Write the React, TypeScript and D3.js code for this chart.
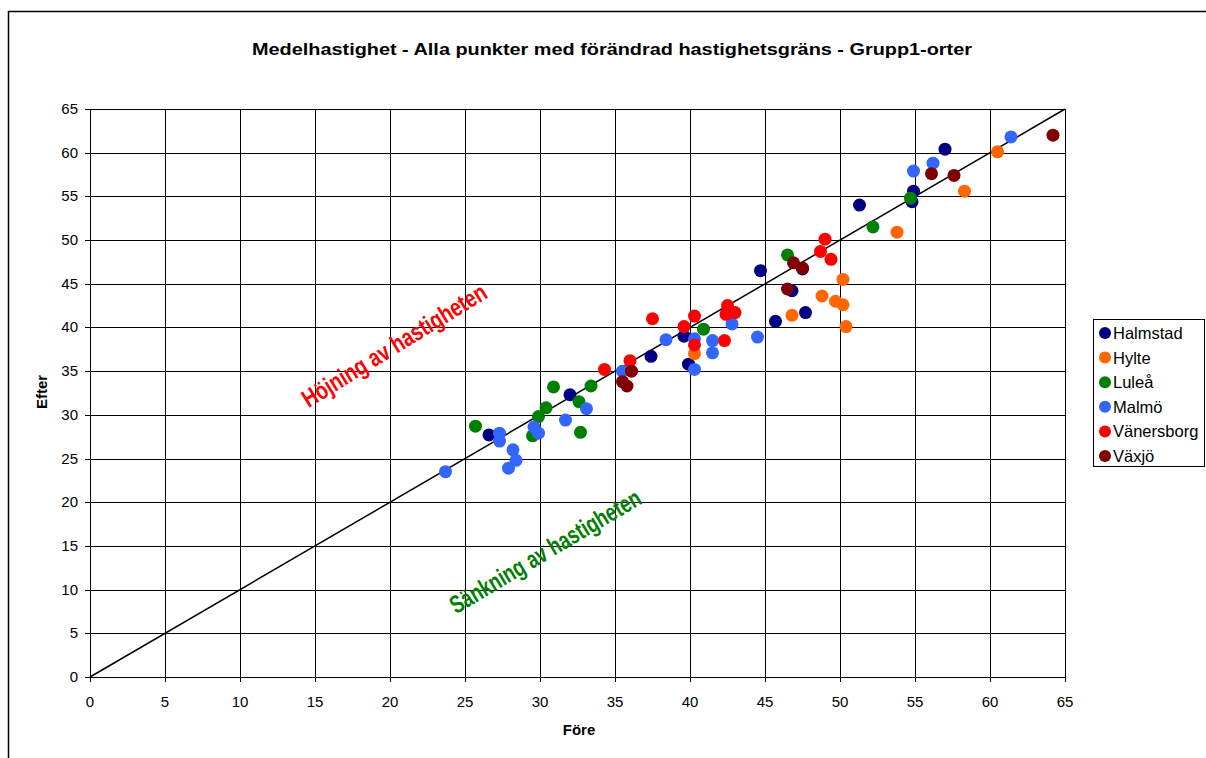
import { useEffect, useRef } from "react"
import * as d3 from "d3"

// before / after average speed per measuring point
const halmstadX = [26.6, 32.0, 37.4, 39.6, 39.9, 44.7, 45.7, 46.8, 47.7, 47.5, 51.3, 54.9, 54.8, 57.0]
const halmstadY = [27.7, 32.3, 36.7, 39.0, 35.8, 46.5, 40.7, 44.2, 41.7, 46.7, 54.0, 55.6, 54.4, 60.4]
const hylteX = [40.3, 46.8, 48.8, 49.7, 50.2, 50.2, 50.4, 53.8, 58.3, 60.5]
const hylteY = [37.0, 41.4, 43.6, 43.0, 42.6, 45.5, 40.1, 50.9, 55.6, 60.1]
const luleaX = [25.7, 30.9, 33.4, 30.4, 32.6, 29.9, 29.5, 32.7, 40.9, 46.5, 52.2, 54.7]
const luleaY = [28.7, 33.2, 33.3, 30.8, 31.5, 29.8, 27.6, 28.0, 39.8, 48.3, 51.5, 54.8]
const malmoX = [23.7, 27.3, 27.3, 28.2, 28.4, 27.9, 29.6, 29.9, 31.7, 33.1, 35.5, 38.4, 40.3, 40.3, 41.5, 41.5, 42.8, 44.5, 54.9, 56.2, 61.4]
const malmoY = [23.5, 27.9, 27.0, 26.0, 24.8, 23.9, 28.6, 27.9, 29.4, 30.7, 35.0, 38.6, 38.7, 35.2, 38.5, 37.1, 40.4, 38.9, 57.9, 58.8, 61.8]
const vanersborgX = [34.3, 36.0, 37.5, 39.6, 40.3, 40.3, 42.3, 42.5, 42.4, 43.0, 48.7, 49.4, 49.0]
const vanersborgY = [35.2, 36.2, 41.0, 40.1, 41.3, 38.0, 38.5, 42.5, 41.5, 41.7, 48.7, 47.8, 50.1]
const vaxjoX = [35.5, 35.8, 36.1, 46.9, 47.5, 46.5, 56.1, 57.6, 64.2]
const vaxjoY = [33.8, 33.3, 35.0, 47.4, 46.8, 44.4, 57.6, 57.4, 62.0]

const seriesNames = ["Halmstad", "Hylte", "Luleå", "Malmö", "Vänersborg", "Växjö"]
const seriesColors = ["#000080", "#FF6600", "#008000", "#3366FF", "#FF0000", "#800000"]
const seriesX = [halmstadX, hylteX, luleaX, malmoX, vanersborgX, vaxjoX]
const seriesY = [halmstadY, hylteY, luleaY, malmoY, vanersborgY, vaxjoY]

const ticks = [0, 5, 10, 15, 20, 25, 30, 35, 40, 45, 50, 55, 60, 65]

export default function App() {
  const svgRef = useRef<SVGSVGElement>(null)

  useEffect(() => {
    if (!svgRef.current) return
    const svg = d3.select(svgRef.current)
    svg.selectAll("*").remove()

    const font = "'Liberation Sans', Arial, sans-serif"
    const left = 90, right = 1065, top = 109, bottom = 677

    const x = d3.scaleLinear().domain([0, 65]).range([left, right])
    const y = d3.scaleLinear().domain([0, 65]).range([bottom, top])

    svg.append("rect").attr("width", 1206).attr("height", 758).attr("fill", "white")

    // outer frame (cropped)
    svg.append("path").attr("d", "M8.5,758 V11.5 H1206").attr("fill", "none").attr("stroke", "black").attr("stroke-width", 1.5)

    // title
    svg.append("text")
      .attr("x", 612).attr("y", 55)
      .attr("text-anchor", "middle")
      .attr("textLength", 720).attr("lengthAdjust", "spacingAndGlyphs")
      .style("font-family", font).style("font-size", "16px").style("font-weight", "bold")
      .text("Medelhastighet - Alla punkter med förändrad hastighetsgräns - Grupp1-orter")

    // grid
    const grid = svg.append("g").attr("stroke", "#000").attr("stroke-width", 1)
    ticks.forEach((t) => {
      grid.append("line").attr("x1", Math.round(x(t)) + 0.5).attr("x2", Math.round(x(t)) + 0.5).attr("y1", top).attr("y2", bottom + 5)
      grid.append("line").attr("y1", Math.round(y(t)) + 0.5).attr("y2", Math.round(y(t)) + 0.5).attr("x1", left - 5).attr("x2", right)
    })
    svg.append("rect").attr("x", left + 0.5).attr("y", top + 0.5).attr("width", right - left).attr("height", bottom - top)
      .attr("fill", "none").attr("stroke", "black")

    // tick labels
    const lab = svg.append("g").style("font-family", font).style("font-size", "15px")
    ticks.forEach((t) => {
      lab.append("text").attr("x", x(t)).attr("y", bottom + 30).attr("text-anchor", "middle").text(t)
      lab.append("text").attr("x", left - 12).attr("y", y(t) + 5).attr("text-anchor", "end").text(t)
    })

    svg.append("text").attr("x", 579).attr("y", 735).attr("text-anchor", "middle")
      .style("font-family", font).style("font-size", "15px").style("font-weight", "bold").text("Före")
    svg.append("text").attr("transform", "translate(47,392) rotate(-90)").attr("text-anchor", "middle")
      .style("font-family", font).style("font-size", "15px").style("font-weight", "bold").text("Efter")

    // diagonal y = x
    svg.append("line").attr("x1", x(0)).attr("y1", y(0)).attr("x2", x(65)).attr("y2", y(65))
      .attr("stroke", "black").attr("stroke-width", 1.5)

    // points
    seriesNames.forEach((name, i) => {
      const pts = seriesX[i].map((v, j) => [v, seriesY[i][j]])
      svg.append("g").selectAll("circle").data(pts).enter().append("circle")
        .attr("cx", (d) => x(d[0])).attr("cy", (d) => y(d[1])).attr("r", 6.5)
        .attr("fill", seriesColors[i])
    })

    // annotations
    svg.append("text").attr("transform", "translate(394,345) rotate(-31.7)").attr("text-anchor", "middle")
      .attr("dominant-baseline", "central")
      .attr("textLength", 212).attr("lengthAdjust", "spacingAndGlyphs")
      .style("font-family", font).style("font-size", "25px").style("font-weight", "bold").attr("fill", "#FF0000")
      .text("Höjning av hastigheten")
    svg.append("text").attr("transform", "translate(545,551) rotate(-30.8)").attr("text-anchor", "middle")
      .attr("dominant-baseline", "central")
      .attr("textLength", 218).attr("lengthAdjust", "spacingAndGlyphs")
      .style("font-family", font).style("font-size", "25px").style("font-weight", "bold").attr("fill", "#008000")
      .text("Sänkning av hastigheten")

    // legend
    const legend = svg.append("g").attr("transform", "translate(1093,319)")
    legend.append("rect").attr("x", 0.5).attr("y", 0.5).attr("width", 111).attr("height", 147).attr("fill", "white").attr("stroke", "black")
    seriesNames.forEach((name, i) => {
      const g = legend.append("g").attr("transform", `translate(0, ${14 + i * 24.6})`)
      g.append("circle").attr("cx", 12).attr("cy", 0).attr("r", 6).attr("fill", seriesColors[i])
      g.append("text").attr("x", 20).attr("y", 6).style("font-family", font).style("font-size", "16.5px").text(name)
    })
  }, [])

  return <svg ref={svgRef} width={1206} height={758} style={{ position: "absolute", left: 0, top: 0 }}></svg>
}
